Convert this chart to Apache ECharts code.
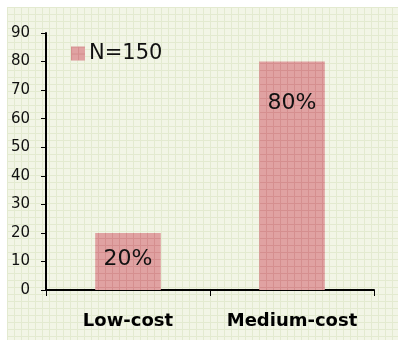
<!DOCTYPE html>
<html>
<head>
<meta charset="utf-8">
<script src="https://cdn.jsdelivr.net/npm/echarts@6/dist/echarts.min.js"></script>
<style>
  html, body { margin: 0; padding: 0; background: #ffffff; }
  #chart { width: 398px; height: 340px; }
</style>
</head>
<body>
<div id="chart"></div>
<script>
// Share of respondents by cost segment
const categories = ['Low-cost', 'Medium-cost'];
const seriesName = 'N=150';
const values = [20, 80];
const valueLabels = ['20%', '80%'];
const yTicks = [0, 10, 20, 30, 40, 50, 60, 70, 80, 90];

function makePattern(base, line, step) {
  const c = document.createElement('canvas');
  c.width = step; c.height = step;
  const ctx = c.getContext('2d');
  ctx.fillStyle = base;
  ctx.fillRect(0, 0, step, step);
  ctx.fillStyle = line;
  ctx.fillRect(0, 0, step, 1);
  ctx.fillRect(0, 0, 1, step);
  return { image: c, repeat: 'repeat' };
}

const paperFill = makePattern('#f2f5e6', '#e3ead0', 7);
const barFill = makePattern('#e0a2a2', '#d58f8f', 7);

const chart = echarts.init(document.getElementById('chart'), null, { renderer: 'canvas' });
const font = '"DejaVu Sans", sans-serif';

chart.setOption({
  animation: false,
  backgroundColor: '#ffffff',
  graphic: [{
    type: 'rect',
    z: -10,
    silent: true,
    shape: { x: 7, y: 7, width: 391, height: 333 },
    style: { fill: paperFill }
  }],
  legend: {
    left: 66, top: 38,
    itemWidth: 14, itemHeight: 14,
    itemGap: 6,
    textStyle: { fontFamily: font, fontSize: 21, color: '#111', padding: [0, 0, 0, -1] },
    data: [{ name: seriesName, icon: 'rect' }]
  },
  grid: { left: 46, right: 24, top: 33, bottom: 50, containLabel: false },
  xAxis: {
    type: 'category',
    data: categories,
    axisLine: { lineStyle: { color: '#000', width: 2 } },
    axisTick: { show: true, length: 6, lineStyle: { color: '#000', width: 1 } },
    axisLabel: { interval: 0, fontFamily: font, fontWeight: 'bold', fontSize: 18, color: '#000', margin: 22 },
    splitLine: { show: false }
  },
  yAxis: {
    type: 'value',
    min: yTicks[0], max: yTicks[yTicks.length - 1], interval: 10,
    axisLine: { show: true, lineStyle: { color: '#000', width: 2 } },
    axisTick: { show: true, length: 5, lineStyle: { color: '#000', width: 1 } },
    axisLabel: { fontFamily: font, fontSize: 15, color: '#111', margin: 16 },
    splitLine: { show: false }
  },
  series: [{
    name: seriesName,
    type: 'bar',
    barWidth: '40%',
    itemStyle: { color: barFill },
    data: values.map((v, i) => ({
      value: v,
      label: {
        show: true,
        position: 'insideTop',
        distance: i === 0 ? 15 : 31,
        formatter: valueLabels[i],
        fontFamily: font, fontSize: 22, color: '#111'
      }
    }))
  }]
});
</script>
</body>
</html>
